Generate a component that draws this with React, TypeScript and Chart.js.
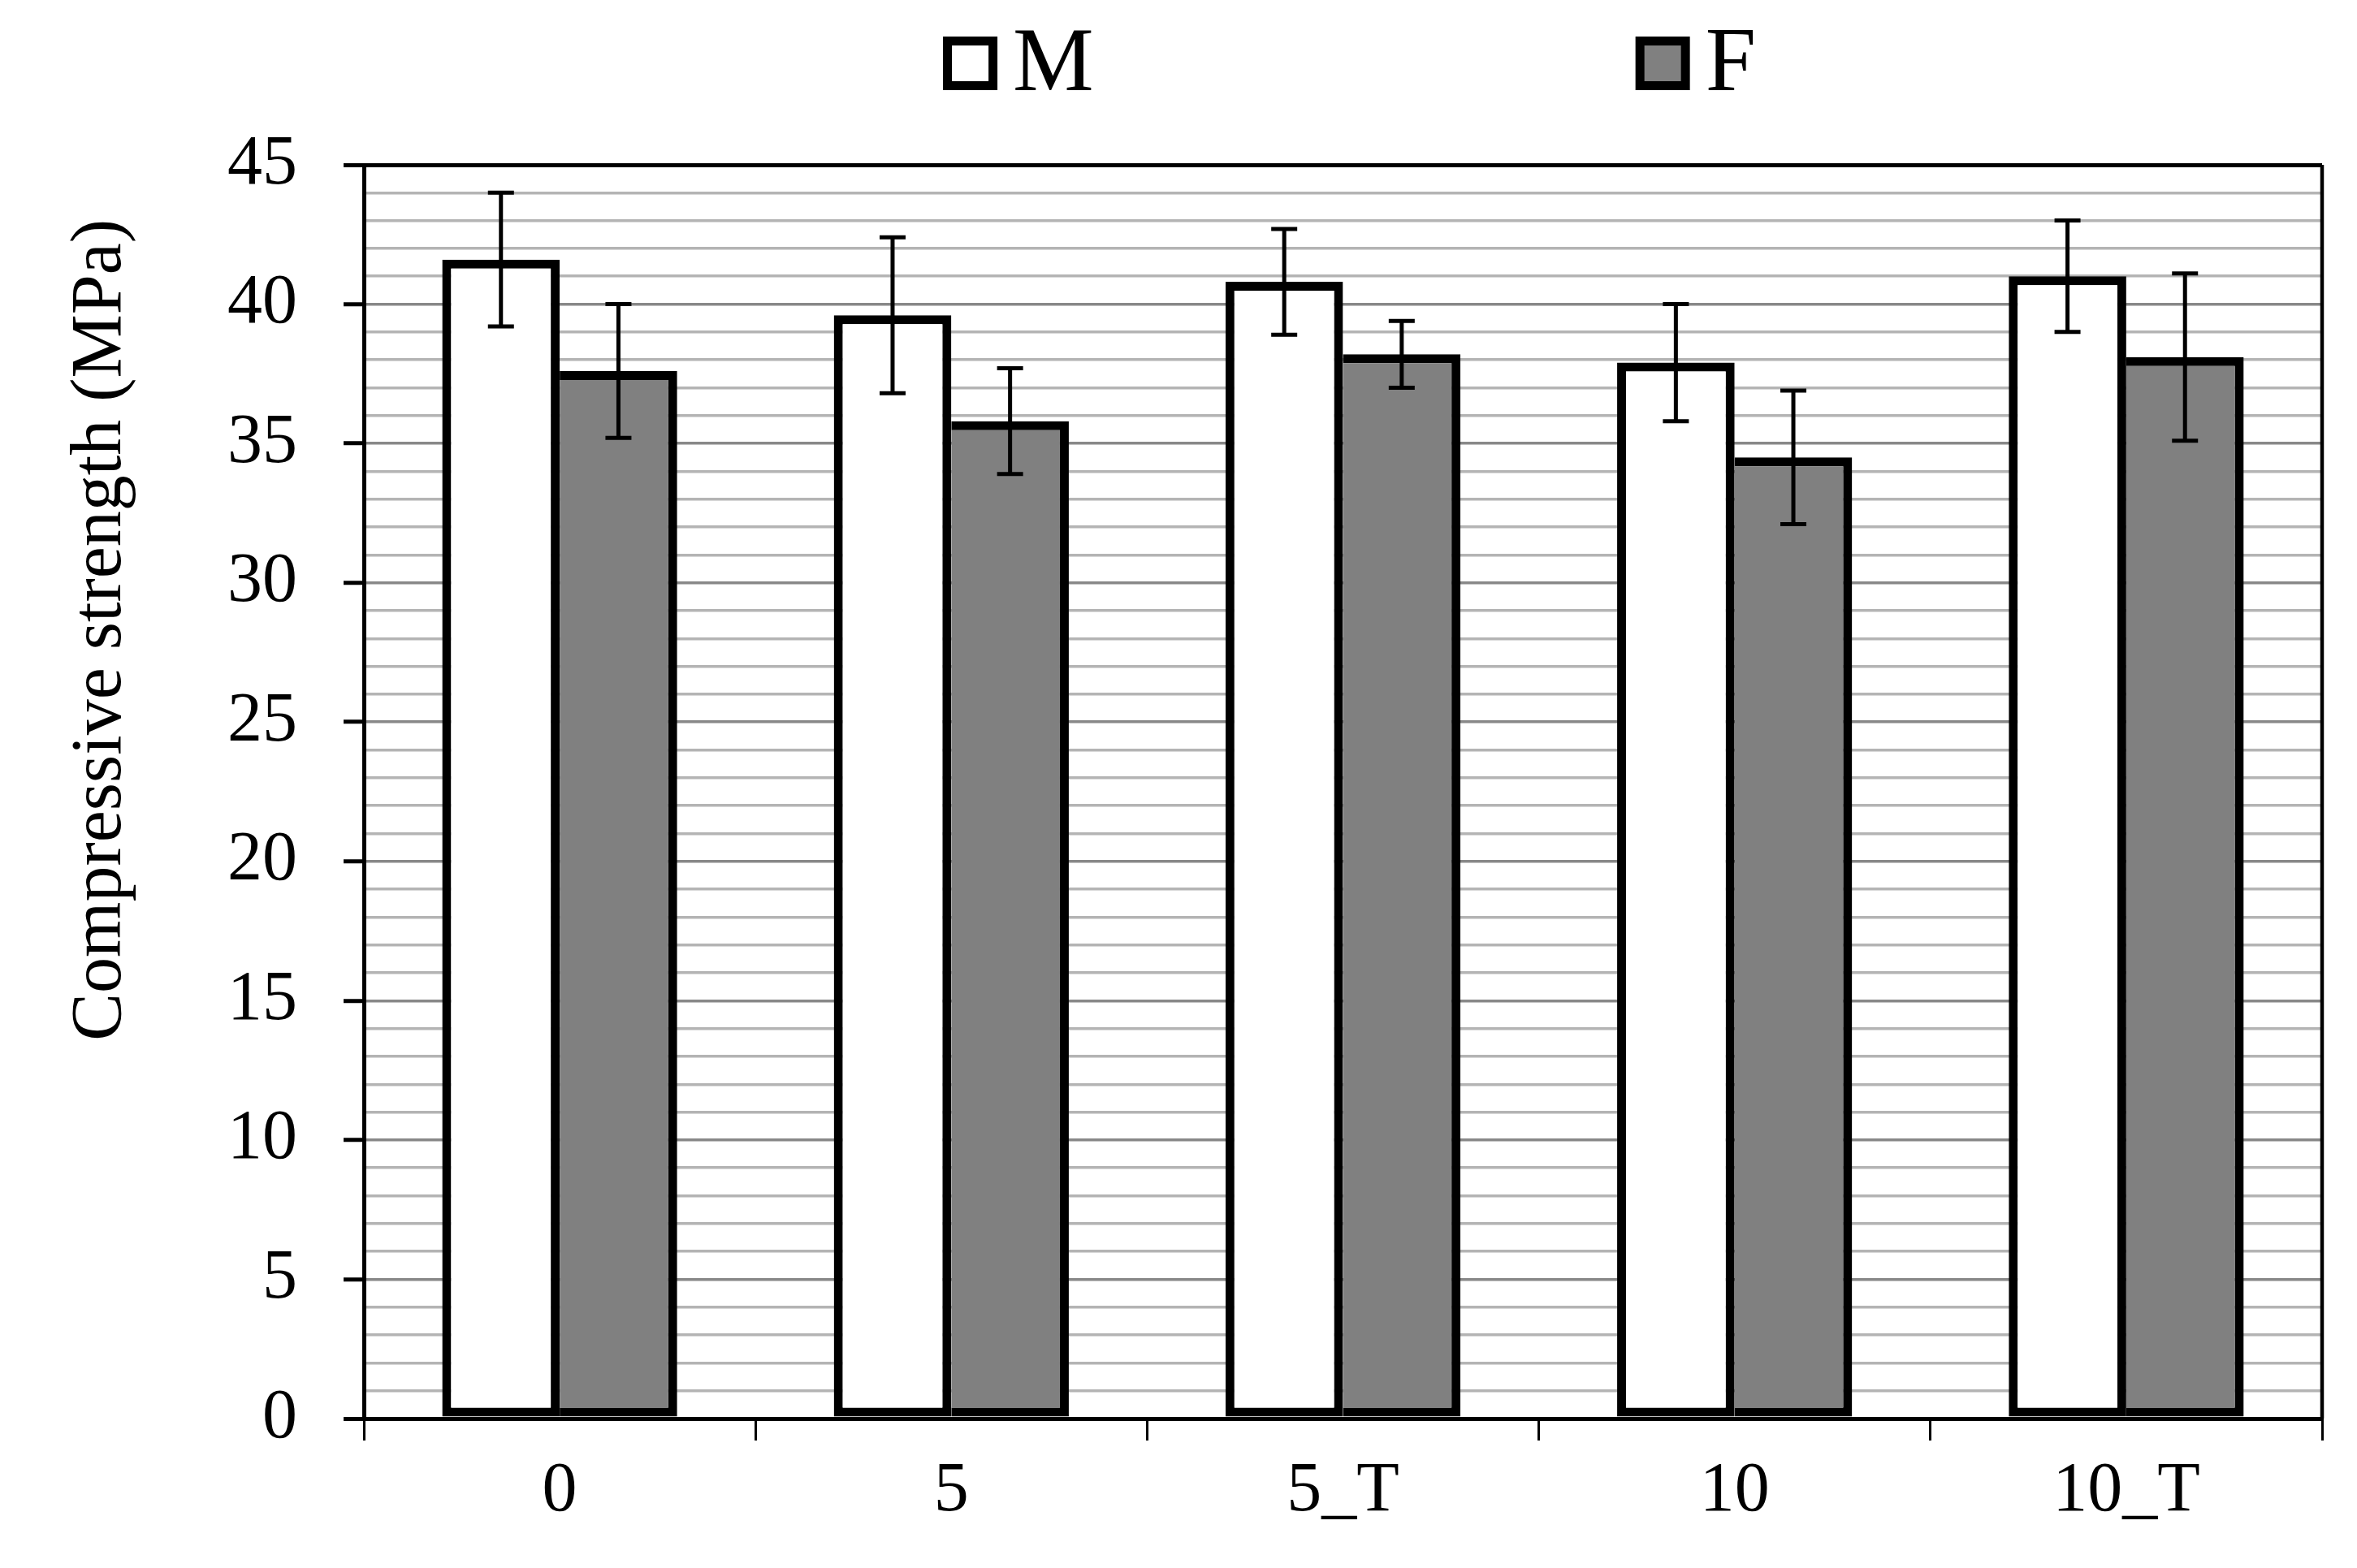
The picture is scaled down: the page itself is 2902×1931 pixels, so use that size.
import React, { useEffect, useRef } from 'react';
import { Chart, registerables } from 'chart.js';

Chart.register(...registerables);

const categories = ['0', '5', '5_T', '10', '10_T'];
const seriesNames = ['M', 'F'];
const mValues = [41.6, 39.6, 40.8, 37.9, 41.0];
const mErrors = [2.4, 2.8, 1.9, 2.1, 2.0];
const fValues = [37.6, 35.8, 38.2, 34.5, 38.1];
const fErrors = [2.4, 1.9, 1.2, 2.4, 3.0];
const yTickLabels = ['0', '5', '10', '15', '20', '25', '30', '35', '40', '45'];
const yAxisTitle = 'Compressive strength (MPa)';
const yMin = 0;
const yMax = 45;
const yMinorStep = 1;

const FONT = "'Liberation Serif', 'Times New Roman', serif";
const errorSets = [mErrors, fErrors];

const errorBarPlugin = {
  id: 'errorBars',
  afterDatasetsDraw(chart: any) {
    const { ctx } = chart;
    const y = chart.scales.y;
    chart.data.datasets.forEach((ds: any, di: number) => {
      const meta = chart.getDatasetMeta(di);
      meta.data.forEach((bar: any, i: number) => {
        const v = ds.data[i];
        const e = errorSets[di][i];
        const yt = y.getPixelForValue(v + e);
        const yb = y.getPixelForValue(v - e);
        const x = bar.x;
        ctx.save();
        ctx.strokeStyle = '#000';
        ctx.lineWidth = 5;
        ctx.beginPath();
        ctx.moveTo(x, yt);
        ctx.lineTo(x, yb);
        ctx.moveTo(x - 16, yt);
        ctx.lineTo(x + 16, yt);
        ctx.moveTo(x - 16, yb);
        ctx.lineTo(x + 16, yb);
        ctx.stroke();
        ctx.restore();
      });
    });
  },
};

const framePlugin = {
  id: 'frame',
  afterDatasetsDraw(chart: any) {
    const { ctx, chartArea } = chart;
    ctx.save();
    ctx.strokeStyle = '#000';
    ctx.lineWidth = 4.5;
    ctx.beginPath();
    ctx.moveTo(chartArea.right, chartArea.top);
    ctx.lineTo(chartArea.right, chartArea.bottom);
    ctx.stroke();
    ctx.restore();
  },
};

const titleLegendPlugin = {
  id: 'titleLegend',
  afterDraw(chart: any) {
    const { ctx, chartArea } = chart;
    // y axis title
    ctx.save();
    ctx.font = `88px ${FONT}`;
    ctx.fillStyle = '#000';
    ctx.textAlign = 'center';
    ctx.textBaseline = 'middle';
    ctx.translate(125, chartArea.top + (chartArea.bottom - chartArea.top) * 0.371);
    ctx.rotate(-Math.PI / 2);
    ctx.fillText(yAxisTitle, 0, 0);
    ctx.restore();

    // legend
    ctx.save();
    ctx.font = `112px ${FONT}`;
    ctx.textBaseline = 'alphabetic';
    ctx.textAlign = 'left';
    const boxW = 67;
    const boxH = 66;
    const border = 11;
    const gap = 19;
    const spacing = 667;
    const items = chart.data.datasets.map((ds: any) => ({
      text: ds.label,
      fill: ds.backgroundColor,
      w: ctx.measureText(ds.label).width,
    }));
    let total = 0;
    items.forEach((it: any, i: number) => {
      total += boxW + gap + it.w + (i < items.length - 1 ? spacing : 0);
    });
    let x = (chartArea.left + chartArea.right) / 2 + 8 - total / 2;
    const base = 111;
    items.forEach((it: any) => {
      ctx.fillStyle = '#000';
      ctx.fillRect(x, base - boxH, boxW, boxH);
      ctx.fillStyle = it.fill;
      ctx.fillRect(x + border, base - boxH + border, boxW - 2 * border, boxH - 2 * border);
      ctx.fillStyle = '#000';
      ctx.fillText(it.text, x + boxW + gap, base);
      x += boxW + gap + it.w + spacing;
    });
    ctx.restore();
  },
};

export default function App() {
  const ref = useRef<HTMLCanvasElement>(null);
  useEffect(() => {
    document.body.style.margin = '0';
    document.body.style.overflow = 'hidden';
    const chart = new Chart(ref.current as HTMLCanvasElement, {
      type: 'bar',
      data: {
        labels: categories,
        datasets: [
          {
            label: seriesNames[0],
            data: mValues,
            backgroundColor: '#ffffff',
            borderColor: '#000000',
            borderWidth: 11,
            borderSkipped: false,
            categoryPercentage: 0.6,
            barPercentage: 1.0,
          },
          {
            label: seriesNames[1],
            data: fValues,
            backgroundColor: '#808080',
            borderColor: '#000000',
            borderWidth: { top: 11, right: 11, bottom: 11, left: 0 },
            borderSkipped: false,
            categoryPercentage: 0.6,
            barPercentage: 1.0,
          },
        ],
      },
      options: {
        animation: false,
        responsive: false,
        devicePixelRatio: 1,
        layout: { padding: { top: 203, right: 43, left: 0, bottom: 0 } },
        plugins: {
          legend: { display: false },
          tooltip: { enabled: false },
          title: { display: false },
        },
        scales: {
          x: {
            type: 'category',
            offset: true,
            grid: {
              offset: true,
              drawOnChartArea: false,
              drawTicks: true,
              tickLength: 27,
              tickColor: '#000',
              tickWidth: 3,
              color: '#000',
              lineWidth: 3,
            },
            border: { display: true, color: '#000', width: 5 },
            ticks: {
              color: '#000',
              font: { family: FONT, size: 86 },
              padding: 12,
              maxRotation: 0,
              autoSkip: false,
            },
            afterFit: (s: any) => {
              s.height = 184;
            },
          },
          y: {
            min: yMin,
            max: yMax,
            grid: {
              drawTicks: true,
              tickLength: 25,
              color: (c: any) => {
                const v = c.tick ? c.tick.value : 0;
                if (v === yMax || v === yMin) return '#000';
                return yTickLabels.includes(String(v)) ? '#888888' : '#b4b4b4';
              },
              lineWidth: (c: any) => {
                const v = c.tick ? c.tick.value : 0;
                return v === yMax || v === yMin ? 5 : 3.5;
              },
              tickColor: (c: any) => {
                const v = c.tick ? c.tick.value : 0;
                return yTickLabels.includes(String(v)) ? '#000' : 'rgba(0,0,0,0)';
              },
              tickWidth: 5,
            },
            border: { display: true, color: '#000', width: 5 },
            ticks: {
              stepSize: yMinorStep,
              autoSkip: false,
              padding: 57,
              color: '#000',
              font: { family: FONT, size: 86 },
              callback: (value: any) =>
                yTickLabels.includes(String(value)) ? String(value) : '',
            },
            afterFit: (s: any) => {
              s.width = 448;
            },
          },
        },
      },
      plugins: [errorBarPlugin, framePlugin, titleLegendPlugin],
    } as any);
    return () => chart.destroy();
  }, []);
  return (
    <div style={{ width: 2902, height: 1931 }}>
      <canvas
        ref={ref}
        width={2902}
        height={1931}
        style={{ display: 'block', width: 2902, height: 1931 }}
      />
    </div>
  );
}
